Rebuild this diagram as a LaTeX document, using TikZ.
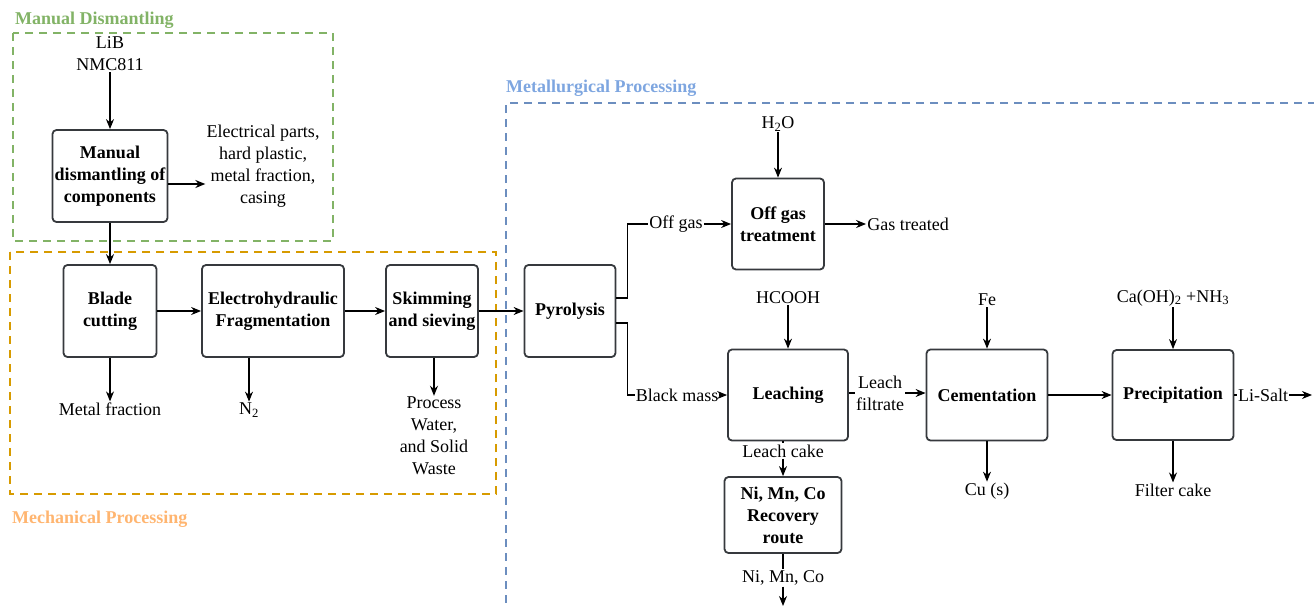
\documentclass[tikz,border=0pt]{standalone}
\usepackage{fontspec}
\setmainfont{Liberation Serif}
\usetikzlibrary{arrows.meta}
\definecolor{mdgreen}{HTML}{82B366}
\definecolor{mpline}{HTML}{D79B00}
\definecolor{mptext}{HTML}{FFB570}
\definecolor{mlline}{HTML}{6C8EBF}
\definecolor{mltext}{HTML}{7EA6E0}
\definecolor{boxline}{HTML}{36393D}
\begin{document}
\begin{tikzpicture}
[x=1pt, y=-1pt, font=\fontsize{18}{22}\selectfont,
unit/.style={draw=boxline, line width=1.8pt, rounded corners=4pt, align=center, inner sep=2pt, font=\fontsize{18}{22}\selectfont\bfseries},
txt/.style={align=center, inner sep=1pt},
flow/.style={-{Stealth[length=10pt,width=8pt]}, line width=1.2pt},
link/.style={line width=1.2pt},
group/.style={line width=1.8pt, dash pattern=on 8pt off 6pt},
grouplabel/.style={anchor=west, inner sep=0pt, font=\fontsize{18}{22}\selectfont\bfseries}]
\useasboundingbox (0,0) rectangle (1314,608);
\draw[group, mdgreen] (13,33) rectangle (333,241);
\draw[group, mpline] (10,252) rectangle (496,494);
\draw[group, mlline] (1330,103) -| (506,625);
\node[grouplabel, mdgreen] (gmanual) at (15,20) {Manual Dismantling};
\node[grouplabel, mptext] (gmech) at (12,519) {Mechanical Processing};
\node[grouplabel, mltext] (gmetal) at (506,88) {Metallurgical Processing};
\node[txt] (lib) at (110,54) {LiB\\NMC811};
\node[unit, minimum width=115pt, minimum height=92pt] (manual) at (110,176) {Manual\\dismantling of\\components};
\node[txt] (parts) at (263,166) {Electrical parts,\\hard plastic,\\metal fraction,\\casing};
\node[unit, minimum width=93pt, minimum height=92pt] (blade) at (110,311) {Blade\\cutting};
\node[unit, minimum width=142pt, minimum height=92pt] (frag) at (273,311) {Electrohydraulic\\Fragmentation};
\node[unit, minimum width=92pt, minimum height=92pt] (skim) at (432,311) {Skimming\\and sieving};
\node[unit, minimum width=91pt, minimum height=92pt] (pyro) at (570,311) {Pyrolysis};
\node[txt] (metal) at (110,409) {Metal fraction};
\node[txt] (n2) at (249,410) {N\textsubscript{2}};
\node[txt] (waste) at (434,436) {Process\\Water,\\and Solid\\Waste};
\node[txt] (h2o) at (778,124) {H\textsubscript{2}O};
\node[unit, minimum width=92pt, minimum height=91pt] (offgasbox) at (778,224) {Off gas\\treatment};
\node[txt] (offgas) at (676,224) {Off gas};
\node[txt] (gastreated) at (908,224) {Gas treated};
\node[txt] (hcooh) at (788,298) {HCOOH};
\node[unit, minimum width=120pt, minimum height=91pt] (leach) at (788,395) {Leaching};
\node[txt] (blackmass) at (677,395) {Black mass};
\node[txt] (filtrate) at (880,393) {Leach\\filtrate};
\node[txt] (fe) at (987,300) {Fe};
\node[unit, minimum width=121pt, minimum height=91pt] (cement) at (987,395) {Cementation};
\node[txt] (caoh) at (1173,298) {Ca(OH)\textsubscript{2} +NH\textsubscript{3}};
\node[unit, minimum width=121pt, minimum height=90pt] (precip) at (1173,395) {Precipitation};
\node[txt] (lisalt) at (1263,395) {Li-Salt};
\coordinate (lisaltend) at (1312,395);
\node[txt] (cu) at (987,491) {Cu (s)};
\node[txt] (filter) at (1173,490) {Filter cake};
\node[txt] (leachcake) at (783,451) {Leach cake};
\node[unit, minimum width=117pt, minimum height=76pt] (recovery) at (783,515) {Ni, Mn, Co\\Recovery\\route};
\node[txt] (nimnco) at (783,578) {Ni, Mn, Co};
\coordinate (nimncoend) at (783,606);
\draw[flow] (lib) -- (manual);
\draw[flow] ([yshift=-8pt]manual.east) -- ([yshift=-8pt]manual.east -| parts.west);
\draw[flow] (manual) -- (blade);
\draw[flow] (blade) -- (frag);
\draw[flow] (frag) -- (skim);
\draw[flow] (skim) -- (pyro);
\draw[flow] (blade) -- (metal);
\draw[flow] (frag.south -| n2) -- (n2);
\draw[flow] (skim.south -| waste) -- (waste);
\draw[link] ([yshift=13pt]pyro.east) -- ++(11,0) |- (offgas);
\draw[flow] (offgas) -- (offgasbox);
\draw[flow] (h2o) -- (offgasbox);
\draw[flow] (offgasbox) -- (gastreated);
\draw[link] ([yshift=-12pt]pyro.east) -- ++(11,0) |- (blackmass);
\draw[flow] (blackmass) -- (leach);
\draw[flow] (hcooh) -- (leach);
\draw[link] (leach.east |- filtrate) -- (filtrate);
\draw[flow] (filtrate) -- (filtrate -| cement.west);
\draw[flow] (fe) -- (cement);
\draw[flow] (cement) -- (precip);
\draw[flow] (caoh) -- (precip);
\draw[link] (precip) -- (lisalt);
\draw[flow] (lisalt) -- (lisaltend);
\draw[flow] (cement) -- (cu);
\draw[flow] (precip) -- (filter);
\draw[link] (leach.south -| leachcake) -- (leachcake);
\draw[flow] (leachcake) -- (recovery);
\draw[link] (recovery) -- (nimnco);
\draw[flow] (nimnco) -- (nimncoend);
\end{tikzpicture}
\end{document}
